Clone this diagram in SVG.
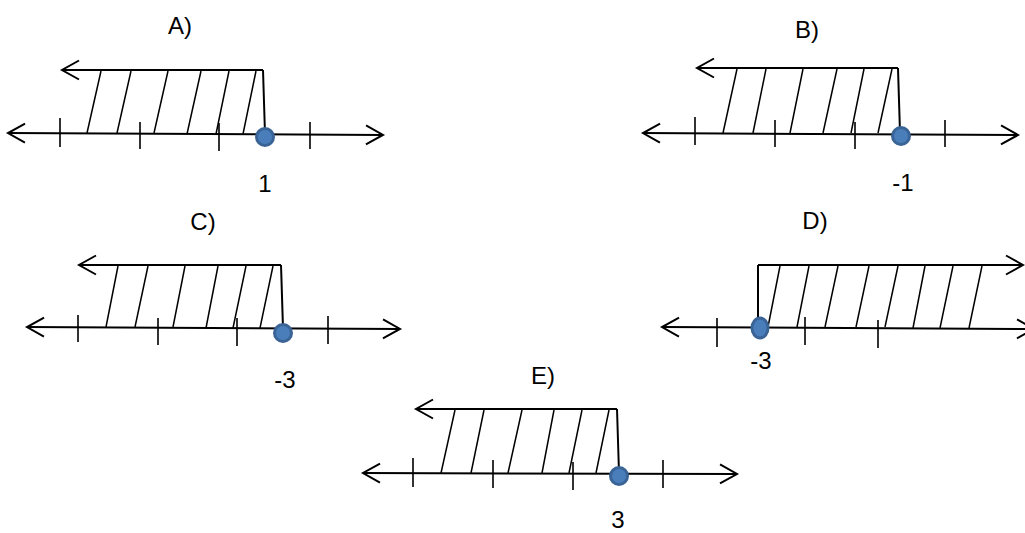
<svg xmlns="http://www.w3.org/2000/svg" width="1025" height="533" viewBox="0 0 1025 533">
<style>
.ln{stroke:#000;stroke-width:2;fill:none}
.tk{stroke:#000;stroke-width:1.6;fill:none}
.ht{stroke:#000;stroke-width:1.5;fill:none}
.dot{fill:#4a7ebb;stroke:#3a6396;stroke-width:3}
.lb{font-family:"Liberation Sans",Arial,sans-serif;font-size:24px;fill:#000;text-anchor:middle}
</style>
<defs>
<marker id="ah" markerUnits="userSpaceOnUse" markerWidth="22" markerHeight="24" refX="19" refY="12" orient="auto-start-reverse">
<path d="M2,2.5 L19,12 L2,21.5" fill="none" stroke="#000" stroke-width="2"/>
</marker>
</defs>
<rect width="1025" height="533" fill="#fff"/>

<g id="nodeA">
<text class="lb" x="180" y="34">A)</text>
<line class="ln" x1="8" y1="133" x2="383" y2="135" marker-start="url(#ah)" marker-end="url(#ah)"/>
<path class="tk" d="M60,118V147M140,122V149M219,123V151M310,122V149"/>
<line class="ln" x1="263" y1="70" x2="62" y2="70" marker-end="url(#ah)"/>
<line class="ln" x1="263" y1="70" x2="265" y2="134"/>
<path class="ht" d="M87,133L101,71M117,133L131,71M154,133L168,71M187,134L201,71M216,134L229,71M243,134L256,71"/>
<circle class="dot" cx="265" cy="137" r="8.5"/>
<text class="lb" x="265" y="192">1</text>
</g>

<g id="nodeB">
<text class="lb" x="807" y="38">B)</text>
<line class="ln" x1="643" y1="133" x2="1018" y2="135" marker-start="url(#ah)" marker-end="url(#ah)"/>
<path class="tk" d="M695,117V145M775,120V147M855,122V149M945,120V147"/>
<line class="ln" x1="898" y1="68" x2="697" y2="68" marker-end="url(#ah)"/>
<line class="ln" x1="898" y1="68" x2="900" y2="133"/>
<path class="ht" d="M723,133L737,69M753,133L766,69M790,133L803,69M823,133L837,69M851,133L864,69M878,133L892,69"/>
<circle class="dot" cx="901" cy="136" r="8.5"/>
<text class="lb" x="903" y="191">-1</text>
</g>

<g id="nodeC">
<text class="lb" x="203" y="230">C)</text>
<line class="ln" x1="27" y1="327" x2="400" y2="329" marker-start="url(#ah)" marker-end="url(#ah)"/>
<path class="tk" d="M78,315V342M158,318V345M237,318V346M328,316V344"/>
<line class="ln" x1="281" y1="265" x2="79" y2="265" marker-end="url(#ah)"/>
<line class="ln" x1="281" y1="265" x2="283" y2="328"/>
<path class="ht" d="M106,327L118,266M135,327L148,266M173,327L185,266M206,328L218,266M233,328L246,266M260,328L273,266"/>
<circle class="dot" cx="283" cy="333" r="8.5"/>
<text class="lb" x="285" y="388">-3</text>
</g>

<g id="nodeD">
<text class="lb" x="815" y="229">D)</text>
<line class="ln" x1="662" y1="327" x2="1034" y2="329" marker-start="url(#ah)" marker-end="url(#ah)"/>
<path class="tk" d="M717,318V347M805,317V345M878,320V348"/>
<line class="ln" x1="758" y1="265" x2="1023" y2="265" marker-end="url(#ah)"/>
<line class="ln" x1="758" y1="265" x2="758" y2="328"/>
<path class="ht" d="M768,327L780,266M797,327L809,266M825,327L838,266M856,327L869,266M885,327L898,266M913,328L925,266M940,328L953,266M969,328L982,266"/>
<ellipse class="dot" cx="760" cy="328" rx="8" ry="10"/>
<text class="lb" x="761" y="369">-3</text>
</g>

<g id="nodeE">
<text class="lb" x="543" y="384">E)</text>
<line class="ln" x1="363" y1="473" x2="737" y2="474" marker-start="url(#ah)" marker-end="url(#ah)"/>
<path class="tk" d="M413,458V487M493,460V488M573,462V490M663,460V488"/>
<line class="ln" x1="617" y1="409" x2="416" y2="409" marker-end="url(#ah)"/>
<line class="ln" x1="617" y1="409" x2="619" y2="473"/>
<path class="ht" d="M441,473L455,410M471,473L484,410M508,473L522,410M542,473L554,410M569,473L582,410M596,473L609,410"/>
<circle class="dot" cx="619" cy="476" r="8.5"/>
<text class="lb" x="618" y="528">3</text>
</g>
</svg>
